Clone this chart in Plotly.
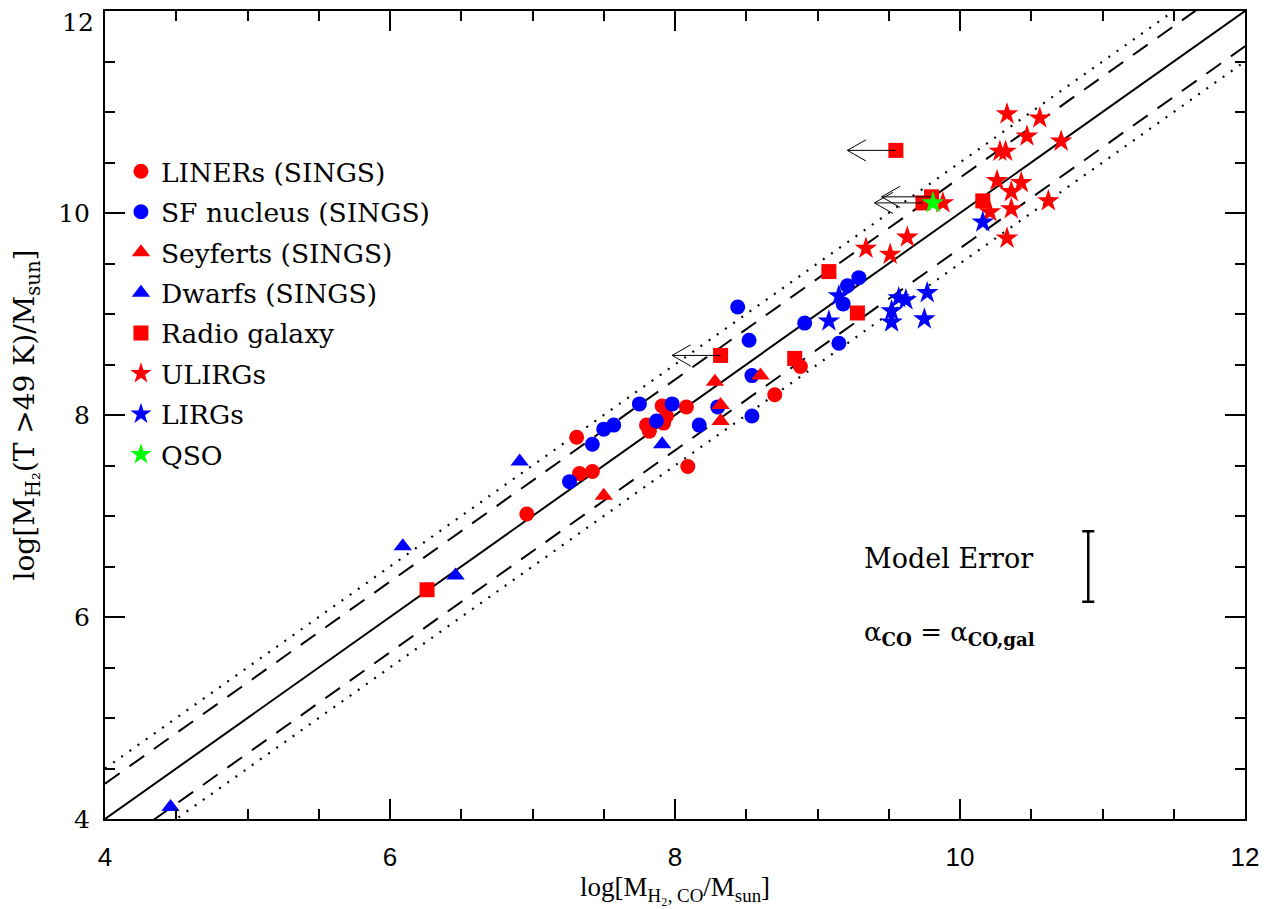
import plotly.graph_objects as go

# ---------------- data ----------------
liner_x = [7.31, 7.33, 7.42, 6.96, 8.09, 7.80, 7.82, 7.91, 7.94, 7.92, 8.08, 8.70, 8.88]
liner_y = [7.78, 7.42, 7.44, 7.02, 7.49, 7.90, 7.84, 8.09, 7.99, 7.92, 8.08, 8.20, 8.48]

sf_x = [8.44, 9.29, 9.21, 9.18, 8.91, 9.15, 8.52, 8.54, 8.30, 8.54, 8.17, 7.98, 7.87, 7.75, 7.57, 7.50, 7.42, 7.26]
sf_y = [9.07, 9.36, 9.28, 9.10, 8.91, 8.71, 8.74, 8.39, 8.08, 7.99, 7.90, 8.11, 7.94, 8.11, 7.90, 7.86, 7.71, 7.34]

sey_x = [8.60, 8.28, 8.32, 8.32, 7.50]
sey_y = [8.39, 8.33, 8.10, 7.94, 7.20]

dwarf_x = [7.91, 6.91, 6.09, 6.46, 4.46]
dwarf_y = [7.71, 7.54, 6.70, 6.41, 4.12]

radio_x = [6.26, 8.32, 8.84, 9.28, 9.08, 9.55, 9.80, 9.74, 10.16]
radio_y = [6.27, 8.59, 8.56, 9.01, 9.42, 10.62, 10.16, 10.10, 10.12]

# upper limits (arrows): start point and arrow tip x
lim_x = [8.32, 9.55, 9.80, 9.74]
lim_y = [8.59, 10.62, 10.16, 10.10]
lim_tip_x = [7.98, 9.21, 9.45, 9.40]

ulirg_x = [10.33, 10.56, 10.47, 10.71, 10.28, 10.32, 10.26, 10.43, 10.36, 9.88, 10.21, 10.36, 10.62, 10.33, 9.63, 9.34, 9.51]
ulirg_y = [10.98, 10.94, 10.76, 10.71, 10.61, 10.61, 10.32, 10.30, 10.21, 10.10, 10.01, 10.04, 10.12, 9.75, 9.76, 9.65, 9.59]

lirg_x = [10.16, 9.15, 9.08, 9.57, 9.62, 9.77, 9.52, 9.52, 9.75]
lirg_y = [9.91, 9.18, 8.93, 9.16, 9.14, 9.21, 9.03, 8.92, 8.95]

qso_x = [9.81]
qso_y = [10.10]

line_x = [4, 12]
dashed_offset = 0.35
dotted_offset = 0.5

err_x = [10.9]
err_y = [6.5]
err_val = [0.35]

x_ticks = [4, 6, 8, 10, 12]
y_ticks = [4, 6, 8, 10, 12]

RED = "#ff0000"
BLUE = "#0000ff"
GREEN = "#00ff00"

# arrow head size (style), in data units
HEAD_DX = 0.13
HEAD_DY = 0.105

fig = go.Figure()

# relation lines
fig.add_trace(go.Scatter(x=line_x, y=line_x, mode="lines",
                         line=dict(color="black", width=2), showlegend=False, hoverinfo="skip"))
for s in (1, -1):
    fig.add_trace(go.Scatter(x=line_x, y=[v + s * dashed_offset for v in line_x], mode="lines",
                             line=dict(color="black", width=2, dash="18px,12px"),
                             showlegend=False, hoverinfo="skip"))
    fig.add_trace(go.Scatter(x=line_x, y=[v + s * dotted_offset for v in line_x], mode="lines",
                             line=dict(color="black", width=2.2, dash="2px,8px"),
                             showlegend=False, hoverinfo="skip"))

# upper-limit arrows (thin open arrowheads)
for x0, y0, xt in zip(lim_x, lim_y, lim_tip_x):
    fig.add_shape(type="line", xref="x", yref="y", x0=x0, y0=y0, x1=xt, y1=y0,
                  line=dict(color="black", width=1))
    fig.add_shape(type="path", xref="x", yref="y",
                  path=f"M {xt + HEAD_DX},{y0 + HEAD_DY} L {xt},{y0} L {xt + HEAD_DX},{y0 - HEAD_DY}",
                  line=dict(color="black", width=1))

series = [
    ("LINERs (SINGS)", liner_x, liner_y, "circle", RED, 15),
    ("SF nucleus (SINGS)", sf_x, sf_y, "circle", BLUE, 15),
    ("Seyferts (SINGS)", sey_x, sey_y, "triangle-up", RED, 16),
    ("Dwarfs (SINGS)", dwarf_x, dwarf_y, "triangle-up", BLUE, 16),
    ("Radio galaxy", radio_x, radio_y, "square", RED, 15),
    ("ULIRGs", ulirg_x, ulirg_y, "star", RED, 17),
    ("LIRGs", lirg_x, lirg_y, "star", BLUE, 17),
    ("QSO", qso_x, qso_y, "star", GREEN, 17),
]
for i, (name, xs, ys, sym, col, sz) in enumerate(series):
    fig.add_trace(go.Scatter(x=xs, y=ys, mode="markers", name=name, legendgroup=f"g{i}",
                             marker=dict(symbol=sym, color=col, size=sz, line=dict(width=0))))

# model error bar
fig.add_trace(go.Scatter(x=err_x, y=err_y, mode="markers", marker=dict(size=0.1, color="black", opacity=0),
                         error_y=dict(type="data", array=err_val, color="black", thickness=2.5, width=6),
                         showlegend=False, hoverinfo="skip"))

SERIF = "DejaVu Serif"
fig.add_annotation(x=9.92, y=6.58, xref="x", yref="y", text="Model Error", showarrow=False,
                   font=dict(family=SERIF, size=27, color="black"), xanchor="center")
fig.add_annotation(x=9.31, y=5.84, xref="x", yref="y",
                   text="α<sub><b>CO</b></sub> = α<sub><b>CO,gal</b></sub>", showarrow=False,
                   font=dict(family=SERIF, size=26, color="black"), xanchor="left")

# top y tick label placed just inside the figure (as in the reference)
fig.add_annotation(x=0, xref="paper", xanchor="right", xshift=-9, y=y_ticks[-1], yref="y",
                   yanchor="top", yshift=5, text=str(y_ticks[-1]), showarrow=False,
                   font=dict(family=SERIF, size=25, color="black"))

axis_common = dict(showgrid=False, zeroline=False, showline=True, linecolor="black", linewidth=2,
                   ticks="inside", ticklen=20, tickwidth=2, tickcolor="black", mirror="allticks",
                   minor=dict(ticks="inside", ticklen=10, tickwidth=2, tickcolor="black", dtick=0.5))

fig.update_xaxes(range=[4, 12], tickvals=x_ticks, ticktext=[str(v) for v in x_ticks], ticklabelstandoff=14,
                 tickfont=dict(family="Liberation Sans Narrow, Liberation Sans", size=26, color="black"),
                 title=dict(text="log[M<sub>H₂, CO</sub>/M<sub>sun</sub>]",
                            font=dict(family="Liberation Serif", size=27, color="black"), standoff=2),
                 **axis_common)
fig.update_yaxes(range=[4, 12], tickvals=y_ticks, ticktext=[str(v) for v in y_ticks[:-1]] + [""],
                 ticklabelstandoff=8,
                 tickfont=dict(family=SERIF, size=25, color="black"),
                 title=dict(text="log[M<sub>H₂</sub>(T >49 K)/M<sub>sun</sub>]",
                            font=dict(family=SERIF, size=28, color="black"), standoff=22),
                 **axis_common)

# the page adds an 8px body margin, so the figure is sized to fit inside it
fig.update_layout(
    width=1265, height=901,
    margin=dict(l=97, r=28, t=1, b=90),
    paper_bgcolor="white", plot_bgcolor="white",
    legend=dict(x=0.014, y=0.831, xanchor="left", yanchor="top", bgcolor="rgba(0,0,0,0)",
                font=dict(family=SERIF, size=26.5, color="black"), tracegroupgap=3,
                itemsizing="trace", traceorder="grouped"),
)

fig.write_html("out.html")
